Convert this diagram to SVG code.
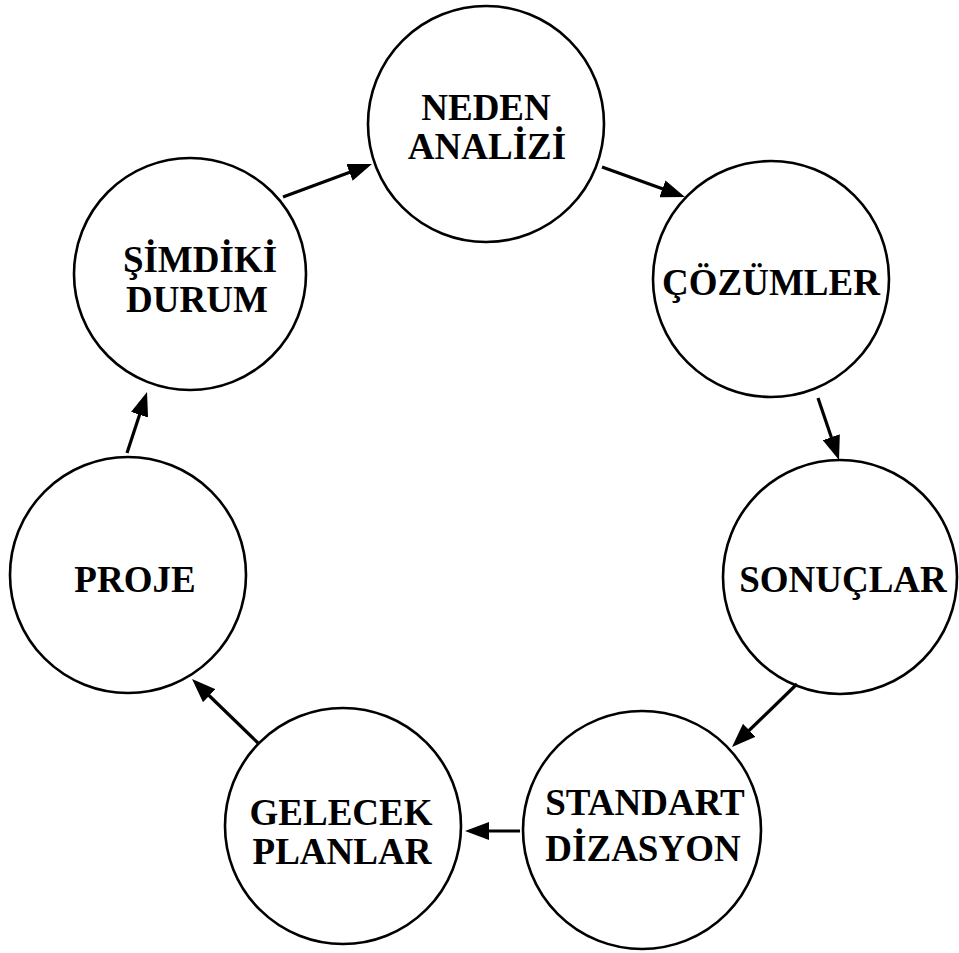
<svg xmlns="http://www.w3.org/2000/svg" width="959" height="953" viewBox="0 0 959 953">
  <style>
    .node circle { fill: #ffffff; stroke: #000000; stroke-width: 2.6; }
    .node text { font-family: "Liberation Serif", "Times New Roman", serif; font-weight: bold; font-size: 37px; fill: #000000; text-anchor: middle; }
    .edge { fill: none; stroke: #000000; stroke-width: 3.2; marker-end: url(#arrow); }
  </style>
  <defs>
    <marker id="arrow" markerUnits="userSpaceOnUse" markerWidth="24" markerHeight="18" refX="14" refY="9" orient="auto">
      <path d="M0,0 L24,9 L0,18 Z" fill="#000000"/>
    </marker>
  </defs>
  <rect width="959" height="953" fill="#ffffff"/>

  <g id="neden-analizi" class="node">
    <circle cx="486" cy="124" r="118"/>
    <text x="486" y="120">NEDEN</text>
    <text x="487" y="159">ANALİZİ</text>
  </g>

  <g id="cozumler" class="node">
    <circle cx="771" cy="279" r="118"/>
    <text x="771" y="295">ÇÖZÜMLER</text>
  </g>

  <g id="sonuclar" class="node">
    <circle cx="840" cy="577" r="117"/>
    <text x="843" y="592">SONUÇLAR</text>
  </g>

  <g id="standartdizasyon" class="node">
    <circle cx="642" cy="830" r="119"/>
    <text x="645" y="815">STANDART</text>
    <text x="643" y="861">DİZASYON</text>
  </g>

  <g id="gelecek-planlar" class="node">
    <circle cx="343" cy="826" r="118"/>
    <text x="341" y="825">GELECEK</text>
    <text x="342" y="864">PLANLAR</text>
  </g>

  <g id="proje" class="node">
    <circle cx="128" cy="575" r="118"/>
    <text x="135" y="592">PROJE</text>
  </g>

  <g id="simdiki-durum" class="node">
    <circle cx="190" cy="274" r="116"/>
    <text x="200" y="272">ŞİMDİKİ</text>
    <text x="197" y="312">DURUM</text>
  </g>

  <!-- cycle connectors, clockwise -->
  <g id="connectors">
    <path class="edge" d="M283,197 L362.6,167.5"/>
    <path class="edge" d="M602,167 L675.6,193.6"/>
    <path class="edge" d="M818,398 L835.8,450.5"/>
    <path class="edge" d="M797,684 L739.2,740"/>
    <path class="edge" d="M520,831 L475,831"/>
    <path class="edge" d="M258,743 L199.2,686"/>
    <path class="edge" d="M127,453 L143.9,401.5"/>
  </g>
</svg>
